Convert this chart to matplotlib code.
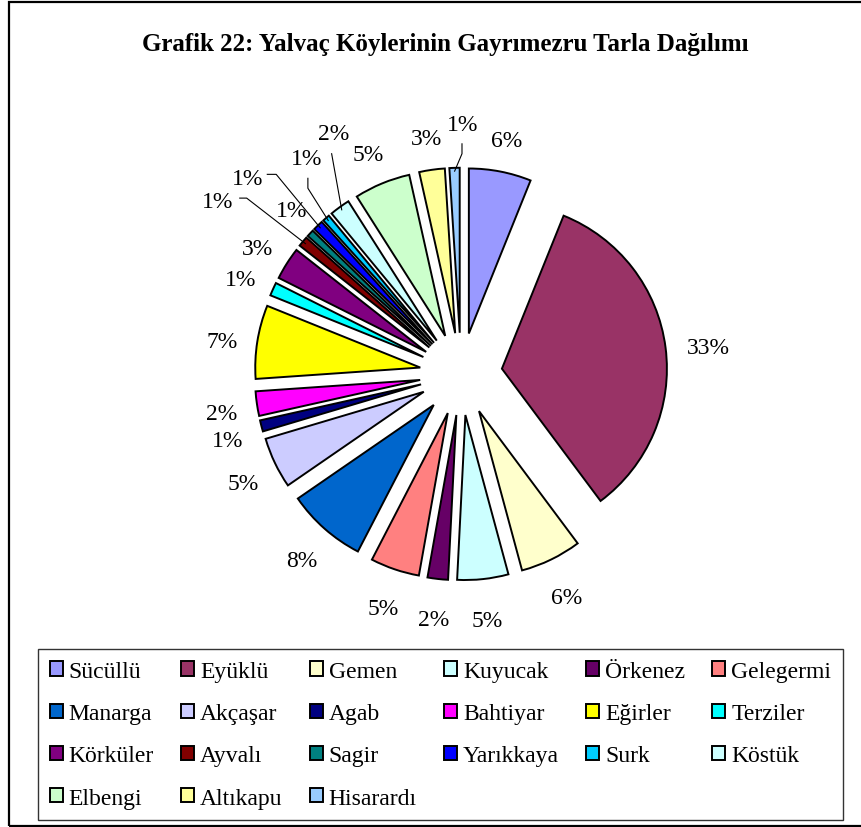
import numpy as np
import matplotlib
matplotlib.use("Agg")
import matplotlib.pyplot as plt
from matplotlib.patches import Rectangle

plt.rcParams['font.family'] = ['Liberation Serif', 'DejaVu Serif']

# --- data ---
villages = ["Sücüllü", "Eyüklü", "Gemen", "Kuyucak", "Örkenez", "Gelegermi",
            "Manarga", "Akçaşar", "Agab", "Bahtiyar", "Eğirler", "Terziler",
            "Körküler", "Ayvalı", "Sagir", "Yarıkkaya", "Surk", "Köstük",
            "Elbengi", "Altıkapu", "Hisarardı"]
shares = [6.1, 33.7, 6.0, 5.0, 2.0, 4.8,
          7.8, 5.0, 1.1, 2.4, 7.2, 1.3,
          3.2, 1.0, 0.7, 1.0, 0.7, 2.0,
          5.5, 2.5, 1.0]
pct_labels = ["6%", "33%", "6%", "5%", "2%", "5%",
              "8%", "5%", "1%", "2%", "7%", "1%",
              "3%", "1%", "1%", "1%", "1%", "2%",
              "5%", "3%", "1%"]
colors = ["#9999FF", "#993366", "#FFFFCC", "#CCFFFF", "#660066", "#FF8080",
          "#0066CC", "#CCCCFF", "#000080", "#FF00FF", "#FFFF00", "#00FFFF",
          "#800080", "#800000", "#008080", "#0000FF", "#00CCFF", "#CCFFFF",
          "#CCFFCC", "#FFFF99", "#99CCFF"]

# crowded labels moved by hand (data coords, pie radius = 1)
label_pos = {13: (-1.473, 1.048), 14: (-1.024, 0.988), 15: (-1.293, 1.186),
             16: (-0.934, 1.305), 17: (-0.772, 1.455), 20: (0.012, 1.515)}
# leader lines: points near the label, the slice end is added later
leaders = {13: [(-1.341, 1.066), (-1.299, 1.066)],
           15: [(-1.174, 1.210), (-1.120, 1.210)],
           16: [(-0.928, 1.186), (-0.928, 1.126)],
           17: [(-0.784, 1.335)],
           20: [(0.006, 1.395), (0.006, 1.335)]}

W, H = 862, 828
scale = 165.0          # pixels per pie radius
cx, cy = 461, 375      # pie centre in pixels (from top-left)

fig = plt.figure(figsize=(W / 100, H / 100), dpi=100)
ax = fig.add_axes([0, 0, 1, 1])

wedges, _ = ax.pie(shares, colors=colors, startangle=90, counterclock=False,
                   explode=[0.25] * len(shares), radius=1.0,
                   wedgeprops={'edgecolor': 'black', 'linewidth': 1.4})

ax.set_xlim(-cx / scale, (W - cx) / scale)
ax.set_ylim(-(H - cy) / scale, cy / scale)
ax.set_aspect('auto')
ax.axis('off')

for i, w in enumerate(wedges):
    mid = np.deg2rad((w.theta1 + w.theta2) / 2)
    c, s = np.cos(mid), np.sin(mid)
    if i in label_pos:
        tx, ty = label_pos[i]
    else:
        # outside-end label: box edge sits a small gap off the arc
        hw = 0.047 * len(pct_labels[i])
        tx = w.center[0] + 1.12 * c + hw * c
        ty = w.center[1] + 1.12 * s + 0.1 * s - 0.03
    ax.text(tx, ty, pct_labels[i], ha='center', va='center', fontsize=17)
    if i in leaders:
        ex = w.center[0] + 0.98 * c
        ey = w.center[1] + 0.98 * s
        pts = leaders[i] + [(ex, ey)]
        ax.plot([p[0] for p in pts], [p[1] for p in pts], color='black', lw=0.8)

fig.text(445 / W, 1 - 45 / H,
         "Grafik 22: Yalvaç Köylerinin Gayrımezru Tarla Dağılımı",
         ha='center', va='center', fontsize=18, fontweight='bold')

# legend is filled row by row in the reference
ncol, nrow = 6, 4
order = [r * ncol + c for c in range(ncol) for r in range(nrow) if r * ncol + c < len(villages)]
leg = fig.legend([wedges[k] for k in order], [villages[k] for k in order],
                 ncol=ncol, loc='upper left',
                 bbox_to_anchor=(38 / W, 8 / H, 805 / W, 170 / H),
                 mode='expand', borderaxespad=0, fontsize=17,
                 handlelength=0.55, handleheight=0.55, handletextpad=0.25,
                 labelspacing=0.9, columnspacing=0.6, fancybox=False,
                 borderpad=0.5)
leg.get_frame().set_edgecolor('black')
leg.get_frame().set_linewidth(1.0)

# outer chart border
fig.add_artist(Rectangle((9 / W, 1 / H), 1.2, 824 / H, transform=fig.transFigure,
                         fill=False, edgecolor='black', lw=1.6, clip_on=False))

fig.savefig("out.png", dpi=100)
